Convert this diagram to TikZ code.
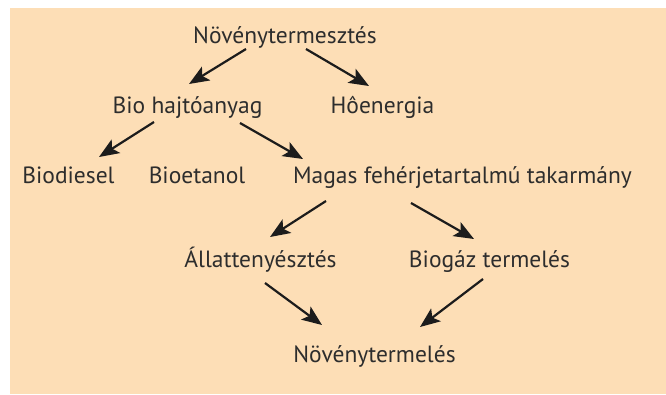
\documentclass[tikz,border=0pt]{standalone}
\usepackage{fontspec}
\setmainfont{PT Sans}
\usetikzlibrary{calc,arrows.meta}
\definecolor{peach}{RGB}{253,222,182}
\definecolor{ink}{RGB}{45,45,45}
\definecolor{arr}{RGB}{28,28,28}
\begin{document}
\begin{tikzpicture}[x=1pt,y=-1pt,
  lbl/.style={anchor=base,inner sep=0pt,text=ink,font=\fontsize{23.5}{28}\selectfont},
  arw/.style={draw=arr,line width=2.2pt,-{Stealth[length=20pt,width=16pt,inset=4.5pt]}}]
\useasboundingbox (0,0) rectangle (666,394);
\fill[peach] (10,8) rectangle (666,394);
\node[lbl] (top) at (285,43) {Növénytermesztés};
\node[lbl] (bio) at (187.5,113) {Bio hajtóanyag};
\node[lbl] (ho) at (382.5,113) {Hôenergia};
\node[lbl] (diesel) at (68.5,183) {Biodiesel};
\node[lbl] (etanol) at (197,183) {Bioetanol};
\node[lbl] (magas) at (462.5,183) {Magas fehérjetartalmú takarmány};
\node[lbl] (allat) at (260.5,267) {Állattenyésztés};
\node[lbl] (biogaz) at (489.5,267) {Biogáz termelés};
\node[lbl] (novt) at (374.5,362) {Növénytermelés};
\draw[arw] ($(top.base)+(-39,6)$) -- ($(bio.base)+(1.5,-29)$);
\draw[arw] ($(top.base)+(21,6)$) -- ($(ho.base)+(-13.5,-27)$);
\draw[arw] ($(bio.base)+(-33.5,9)$) -- ($(diesel.base)+(30.5,-26)$);
\draw[arw] ($(bio.base)+(52.5,10)$) -- ($(magas.base)+(-159.5,-24)$);
\draw[arw] ($(magas.base)+(-136.5,18)$) -- ($(allat.base)+(9.5,-30)$);
\draw[arw] ($(magas.base)+(-51.5,20)$) -- ($(biogaz.base)+(-15.5,-28)$);
\draw[arw] ($(allat.base)+(4.5,16)$) -- ($(novt.base)+(-52.5,-37)$);
\draw[arw] ($(biogaz.base)+(-6.5,12)$) -- ($(novt.base)+(45.5,-35)$);
\end{tikzpicture}
\end{document}
